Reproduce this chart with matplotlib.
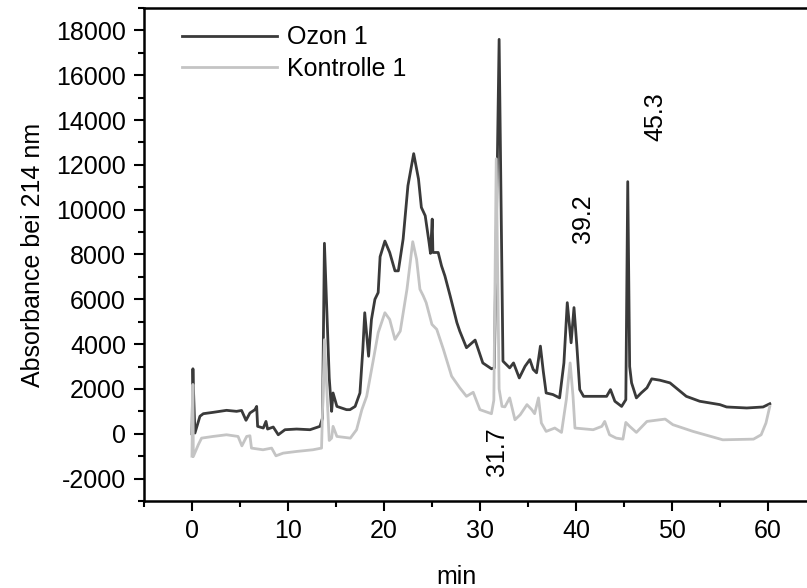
import matplotlib.pyplot as plt
from matplotlib.ticker import MultipleLocator

# retention time [min] and absorbance
t_ozon = [0.0, 0.1, 0.14, 0.31, 0.83, 1.18, 2.2, 3.6, 4.65, 5.17, 5.63, 6.04, 6.56, 6.74, 6.84,
          7.43, 7.71, 7.88, 8.47, 8.99, 9.69, 10.9, 12.3, 13.33, 13.6, 13.8, 14.3, 14.55, 14.7,
          15.1, 16.1, 16.46, 17.0, 17.5, 17.8, 18.0, 18.4, 18.7, 19.06, 19.4, 19.6, 20.1, 20.6,
          21.15, 21.5, 22.0, 22.5, 23.1, 23.6, 23.9, 24.3, 24.7, 24.85, 25.03, 25.1, 25.65, 26.0,
          26.35, 26.9, 27.6, 27.9, 28.6, 29.5, 30.3, 31.2, 31.5, 32.0, 32.4, 33.1, 33.5, 34.1,
          34.7, 35.2, 35.55, 35.9, 36.3, 36.6, 36.9, 37.6, 38.3, 38.75, 39.1, 39.5, 39.8, 40.1,
          40.4, 40.8, 42.5, 43.2, 43.6, 44.06, 44.76, 45.2, 45.4, 45.6, 45.8, 46.3, 46.8, 47.4,
          47.9, 48.75, 49.8, 51.5, 52.9, 55.0, 55.7, 57.8, 59.5, 60.2]
ozon = [0, 2900, 2200, 30, 780, 895, 955, 1045, 1000, 1040, 600, 925, 1075, 1220, 330,
        255, 550, 210, 300, -45, 180, 210, 180, 330, 700, 8500, 2500, 1000, 1820,
        1220, 1075, 1075, 1220, 1820, 3760, 5400, 3460, 5100, 6000, 6300, 7900, 8600, 8090,
        7270, 7270, 8690, 11070, 12500, 11370, 10100, 9730, 8540, 8050, 9580, 8090, 8090, 7490,
        7045, 6150, 4960, 4580, 3840, 4180, 3160, 2900, 2940, 17600, 3240, 2940, 3160, 2490,
        3010, 3310, 2870, 2720, 3910, 2790, 1820, 1750, 1600, 3160, 5850, 4060, 5630, 3910,
        1970, 1670, 1670, 1670, 1970, 1450, 1220, 1520, 11250, 3000, 2270, 1600, 1820, 2050,
        2450, 2390, 2270, 1670, 1450, 1300, 1195, 1150, 1195, 1340]

t_kontrolle = [0.0, 0.1, 0.14, 0.66, 1.0, 2.2, 3.6, 4.8, 5.2, 5.7, 6.04, 6.2, 7.4, 8.3, 8.75,
               9.5, 10.9, 12.6, 13.5, 13.8, 14.3, 14.55, 14.7, 15.1, 16.5, 17.15, 17.7, 18.2,
               18.9, 19.4, 20.1, 20.6, 21.15, 21.7, 22.4, 23.0, 23.4, 23.75, 24.1, 24.4, 25.0,
               25.5, 26.2, 27.05, 27.9, 28.6, 29.3, 30.0, 31.2, 31.45, 31.7, 32.0, 32.3, 32.6,
               33.1, 33.65, 34.2, 34.9, 35.4, 35.7, 36.1, 36.4, 36.9, 37.8, 38.5, 39.0, 39.4,
               39.7, 39.9, 41.8, 42.7, 43.0, 43.5, 44.2, 44.9, 45.2, 45.6, 46.3, 47.4, 48.75,
               49.3, 50.1, 52.2, 55.3, 58.5, 59.3, 59.8, 60.2]
kontrolle = [-1000, 2200, -1015, -490, -195, -120, -45, -120, -540, -120, -90, -640, -715, -640, -985,
             -865, -790, -715, -640, 4200, -300, -195, 330, -120, -195, 180, 1075, 1670,
             3310, 4510, 5400, 5100, 4210, 4580, 6450, 8570, 7790, 6450, 6150, 5850, 4880,
             4660, 3760, 2570, 2050, 1670, 1850, 1075, 895, 1500, 12270, 2000, 1220, 1200,
             1600, 625, 850, 1300, 1075, 895, 1600, 480, 105, 255, 60, 1520, 3160,
             1670, 255, 180, 330, 550, -45, -195, -240, 505, 330, 60, 550, 625,
             655, 405, 105, -270, -240, -45, 480, 1220]

peak_labels = ["31.7", "39.2", "45.3"]
peak_x = [31.8, 40.7, 48.3]
peak_y = [-800, 9580, 14150]

plt.rcParams['font.family'] = ['Liberation Sans', 'DejaVu Sans']
plt.rcParams['font.size'] = 18
plt.rcParams['axes.unicode_minus'] = False

fig = plt.figure(figsize=(8.07, 5.88), dpi=100)
ax = fig.add_axes([0.1784, 0.148, 0.8326, 0.8384])

ax.plot(t_ozon, ozon, color='#3a3a3a', lw=2, label='Ozon 1')
ax.plot(t_kontrolle, kontrolle, color='#c4c4c4', lw=2, label='Kontrolle 1')

for lab, px, py in zip(peak_labels, peak_x, peak_y):
    ax.text(px, py, lab, rotation=90, ha='center', va='center')

ax.set_xlim(-5, 65)
ax.set_ylim(-3000, 19000)
ax.xaxis.set_major_locator(MultipleLocator(10))
ax.xaxis.set_minor_locator(MultipleLocator(5))
ax.yaxis.set_major_locator(MultipleLocator(2000))
ax.yaxis.set_minor_locator(MultipleLocator(1000))
ax.tick_params(which='major', length=7, width=1.5, direction='out', pad=6)
ax.tick_params(which='minor', length=4, width=1.5, direction='out')
for s in ax.spines.values():
    s.set_linewidth(1.8)
ax.spines['right'].set_visible(False)

ax.set_xlabel('min')
ax.xaxis.set_label_coords(0.465, -0.13)
ax.set_ylabel('Absorbance bei 214 nm', labelpad=8)

ax.legend(loc='upper left', frameon=False, handlelength=3.8, handletextpad=0.4,
          borderaxespad=0.3, labelspacing=0.3, bbox_to_anchor=(0.03, 1.0))

fig.savefig('out.png', dpi=100)
